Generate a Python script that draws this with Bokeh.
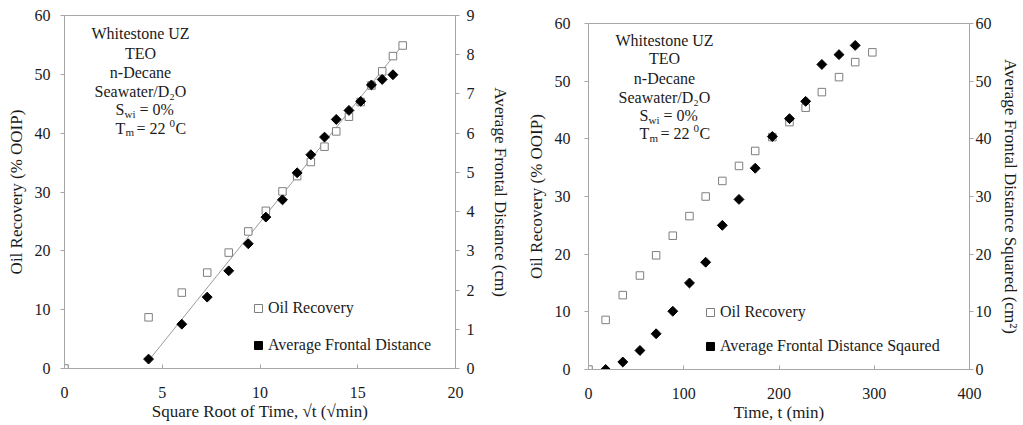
import numpy as np
from bokeh.plotting import figure
from bokeh.models import (Range1d, LinearAxis, Legend, LegendItem, Label,
                          SingleIntervalTicker)
from bokeh.layouts import row
from bokeh.embed import file_html
from bokeh.resources import INLINE

# ---------------- data ----------------
# Left chart: vs square root of time
sqrt_t_oil = [0, 4.3, 6.0, 7.3, 8.4, 9.4, 10.3, 11.15, 11.9, 12.6, 13.3, 13.9,
              14.55, 15.15, 15.7, 16.25, 16.8, 17.3]
oil_rec_left = [0, 8.7, 12.9, 16.3, 19.7, 23.3, 26.8, 30.1, 32.7, 35.1, 37.7,
                40.3, 42.8, 45.3, 48.1, 50.5, 53.1, 54.9]
sqrt_t_dist = [4.3, 6.0, 7.3, 8.4, 9.4, 10.3, 11.15, 11.9, 12.6, 13.3, 13.9,
               14.55, 15.15, 15.7, 16.25, 16.8]
front_dist_cm = [0.24, 1.13, 1.82, 2.49, 3.18, 3.86, 4.3, 4.99, 5.45, 5.9, 6.35,
                 6.58, 6.81, 7.23, 7.37, 7.49]
trend_sqrt_t = [4.3, 17.3]
trend_dist_cm = [0.2, 8.25]

# Right chart: vs time
t_oil = [0, 18, 36, 54, 71, 88.5, 106, 123, 140.5, 158, 175, 193, 211, 228,
         245, 263, 280, 298]
oil_rec_right = [0, 8.6, 12.9, 16.3, 19.8, 23.2, 26.6, 30.0, 32.7, 35.3, 37.9,
                 40.3, 42.9, 45.4, 48.1, 50.7, 53.3, 55.0]
t_dist = [18, 36, 54, 71, 88.5, 106, 123, 140.5, 158, 175, 193, 211, 228, 245,
          263, 280]
front_dist_sq = [0, 1.3, 3.3, 6.2, 10.1, 15.0, 18.6, 25.0, 29.5, 34.9, 40.4,
                 43.5, 46.5, 52.9, 54.6, 56.2]

info_lines = ["Whitestone UZ", "TEO", "n-Decane", "Seawater/D\u2082O"]

FONT = "Liberation Serif"
FS = "16px"
FS_T = "17px"
AXC = "#a6a6a6"
TXT = "#1a1a1a"
SQC = "#7f7f7f"


def style_axis(ax, tick_in, tick_out, standoff, label_standoff):
    ax.axis_line_color = AXC
    ax.major_tick_line_color = AXC
    ax.minor_tick_line_color = None
    ax.major_tick_in = tick_in
    ax.major_tick_out = tick_out
    ax.major_label_standoff = standoff
    ax.axis_label_standoff = label_standoff
    ax.major_label_text_font = FONT
    ax.major_label_text_font_size = FS
    ax.major_label_text_color = TXT
    ax.axis_label_text_font = FONT
    ax.axis_label_text_font_size = FS_T
    ax.axis_label_text_font_style = "normal"
    ax.axis_label_text_color = TXT


def make_fig(width, height, bl, br, bt, bb, xmax, xint, ymax, y2max, y2int,
             xlabel, ylabel, y2label, ly_std, ly_lstd, r_std, r_lstd):
    p = figure(width=width, height=height, output_backend="svg",
               toolbar_location=None,
               x_range=Range1d(0, xmax), y_range=Range1d(0, ymax),
               min_border_left=bl, min_border_right=br,
               min_border_top=bt, min_border_bottom=bb)
    p.extra_y_ranges = {"d": Range1d(0, y2max)}
    p.xgrid.visible = False
    p.ygrid.visible = False
    p.outline_line_color = AXC
    p.background_fill_color = "white"
    p.border_fill_color = "white"
    p.xaxis.ticker = SingleIntervalTicker(interval=xint)
    p.yaxis.ticker = SingleIntervalTicker(interval=10)
    p.xaxis.axis_label = xlabel
    p.yaxis.axis_label = ylabel
    style_axis(p.xaxis[0], 4, 0, 14, 1)
    style_axis(p.yaxis[0], 0, 4, ly_std, ly_lstd)
    ax2 = LinearAxis(y_range_name="d", ticker=SingleIntervalTicker(interval=y2int),
                     axis_label=y2label)
    style_axis(ax2, 0, 4, r_std, r_lstd)
    p.add_layout(ax2, "right")
    return p


def add_info(p, frame_h, cx, tops):
    for s, dy in zip(info_lines, tops[:4]):
        p.add_layout(Label(x=cx, y=frame_h - dy, x_units="screen", y_units="screen",
                           text=s, text_align="center", text_baseline="middle",
                           text_font=FONT, text_font_size=FS, text_color=TXT))
    # (text, font px, dx from line start, dy)
    lines = [
        [("S", 16, 0, 0), ("wi", 11, 9, -4), ("= 0%", 16, 24, 0)],
        [("T", 16, 0, 0), ("m", 11, 10, -4), ("= 22", 16, 21, 0), ("0", 11, 54, 5),
         ("C", 16, 60, 0)],
    ]
    for pieces, dy in zip(lines, tops[4:]):
        x0 = cx - 25
        yc = frame_h - dy
        for s, fs, dx, off in pieces:
            p.add_layout(Label(x=x0 + dx, y=yc + off, x_units="screen",
                               y_units="screen", text=s, text_align="left",
                               text_baseline="middle", text_font=FONT,
                               text_font_size=f"{fs}px", text_color=TXT))


def add_legend(p, items, loc, spacing):
    lg = Legend(items=items, location=loc, orientation="vertical", padding=0,
                margin=0, spacing=spacing, glyph_width=20, glyph_height=20,
                label_height=20, label_standoff=0, border_line_color=None,
                background_fill_alpha=0, label_text_font=FONT,
                label_text_font_size=FS, label_text_color=TXT)
    p.add_layout(lg)


# ---------------- left chart ----------------
p1 = make_fig(512, 424, 64, 54, 15, 56, 20, 5, 60, 9, 1,
              "Square Root of Time, \u221at (\u221amin)", "Oil Recovery (% OOIP)",
              "Average Frontal Distance (cm)", 10, 6, 7, 13)
p1.line(trend_sqrt_t, trend_dist_cm, y_range_name="d", line_color="#9a9a9a",
        line_width=1)
r1a = p1.scatter(sqrt_t_oil, oil_rec_left, marker="square", size=7.5,
                 fill_color="white", line_color=SQC, line_width=1)
r1b = p1.scatter(sqrt_t_dist, front_dist_cm, y_range_name="d", marker="square",
                 angle=np.pi / 4, size=7, fill_color="black", line_color="black")
add_info(p1, 353, 76, [18.3, 37.7, 56.7, 76, 94.3, 112.7])
add_legend(p1, [LegendItem(label="Oil Recovery", renderers=[r1a]),
                LegendItem(label="Average Frontal Distance", renderers=[r1b])],
           (184, 13), 17)

# ---------------- right chart ----------------
p2 = make_fig(510, 417, 76, 50, 15, 56, 400, 100, 60, 60, 10,
              "Time, t (min)", "Oil Recovery (% OOIP)",
              "Average Frontal Distance Squared (cm\u00b2)", 14, 6, 2, 6)
p2.margin = (8, 0, 0, 0)
r2a = p2.scatter(t_oil, oil_rec_right, marker="square", size=7.5,
                 fill_color="white", line_color=SQC, line_width=1)
r2b = p2.scatter(t_dist, front_dist_sq, y_range_name="d", marker="square",
                 angle=np.pi / 4, size=7, fill_color="black", line_color="black")
add_info(p2, 346, 76, [17, 35.3, 54.7, 73.7, 92, 110.3])
add_legend(p2, [LegendItem(label="Oil Recovery", renderers=[r2a]),
                LegendItem(label="Average Frontal Distance Sqaured", renderers=[r2b])],
           (112, 13), 14)

layout = row(p1, p2, spacing=0)
open("out.html", "w").write(file_html(layout, INLINE))
